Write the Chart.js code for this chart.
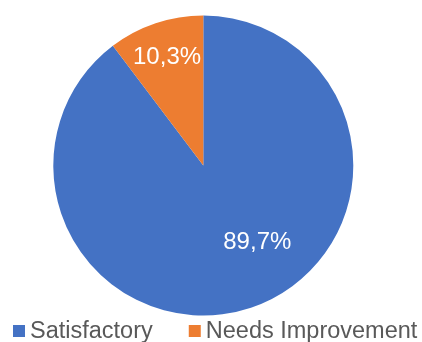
<!DOCTYPE html>
<html>
<head>
<meta charset="utf-8">
<script src="https://cdn.jsdelivr.net/npm/chart.js@4.4.1/dist/chart.umd.min.js"></script>
<style>
  html, body { margin: 0; padding: 0; background: #ffffff; }
  #wrap { width: 422px; height: 342px; position: relative; }
</style>
</head>
<body>
<div id="wrap"><canvas id="c" width="422" height="342"></canvas></div>
<script>
// Survey result shares (percent)
const categories = ['Satisfactory', 'Needs Improvement'];
const shares = [89.7, 10.3];
const sliceColors = ['#4472C4', '#ED7D31'];

const FONT = '"Liberation Sans", Arial, sans-serif';

// Percentage labels inside each slice (comma decimal separator)
const sliceLabels = {
  id: 'sliceLabels',
  afterDatasetsDraw(chart, args, opts) {
    const ctx = chart.ctx;
    const meta = chart.getDatasetMeta(0);
    ctx.save();
    ctx.fillStyle = '#ffffff';
    ctx.font = opts.fontSize + 'px ' + FONT;
    ctx.textAlign = 'center';
    ctx.textBaseline = 'middle';
    meta.data.forEach((arc, i) => {
      const p = arc.getProps(['x', 'y', 'startAngle', 'endAngle', 'outerRadius'], true);
      const place = opts.placement[i];
      const mid = (p.startAngle + p.endAngle) / 2 + place.angleShift;
      const r = p.outerRadius * place.radius;
      const x = p.x + Math.cos(mid) * r;
      const y = p.y + Math.sin(mid) * r;
      const txt = chart.data.datasets[0].data[i].toFixed(1).replace('.', ',') + '%';
      ctx.fillText(txt, x, y);
    });
    ctx.restore();
  }
};

// Legend row under the pie
const bottomLegend = {
  id: 'bottomLegend',
  afterDraw(chart, args, opts) {
    const ctx = chart.ctx;
    ctx.save();
    ctx.font = opts.fontSize + 'px ' + FONT;
    ctx.textBaseline = 'middle';
    let x = opts.left;
    const y = opts.centerY;
    chart.data.labels.forEach((label, i) => {
      ctx.fillStyle = chart.data.datasets[0].backgroundColor[i];
      ctx.fillRect(x, y - opts.box / 2, opts.box, opts.box);
      x += opts.box + opts.textGap;
      ctx.fillStyle = '#595959';
      ctx.textAlign = 'left';
      ctx.fillText(label, x, y + 1);
      x += ctx.measureText(label).width + opts.itemGap;
    });
    ctx.restore();
  }
};

new Chart(document.getElementById('c'), {
  type: 'pie',
  data: {
    labels: categories,
    datasets: [{
      data: shares,
      backgroundColor: sliceColors,
      borderWidth: 0
    }]
  },
  options: {
    responsive: false,
    animation: false,
    layout: { padding: { left: 0, right: 15.4, top: 15.5, bottom: 26.5 } },
    plugins: {
      legend: { display: false },
      tooltip: { enabled: false },
      sliceLabels: {
        fontSize: 24,
        placement: [
          { radius: 0.627, angleShift: -0.288 },
          { radius: 0.76, angleShift: 0 }
        ]
      },
      bottomLegend: { fontSize: 23.5, left: 13, centerY: 331, box: 12, textGap: 5, itemGap: 36 }
    }
  },
  plugins: [sliceLabels, bottomLegend]
});
</script>
</body>
</html>
